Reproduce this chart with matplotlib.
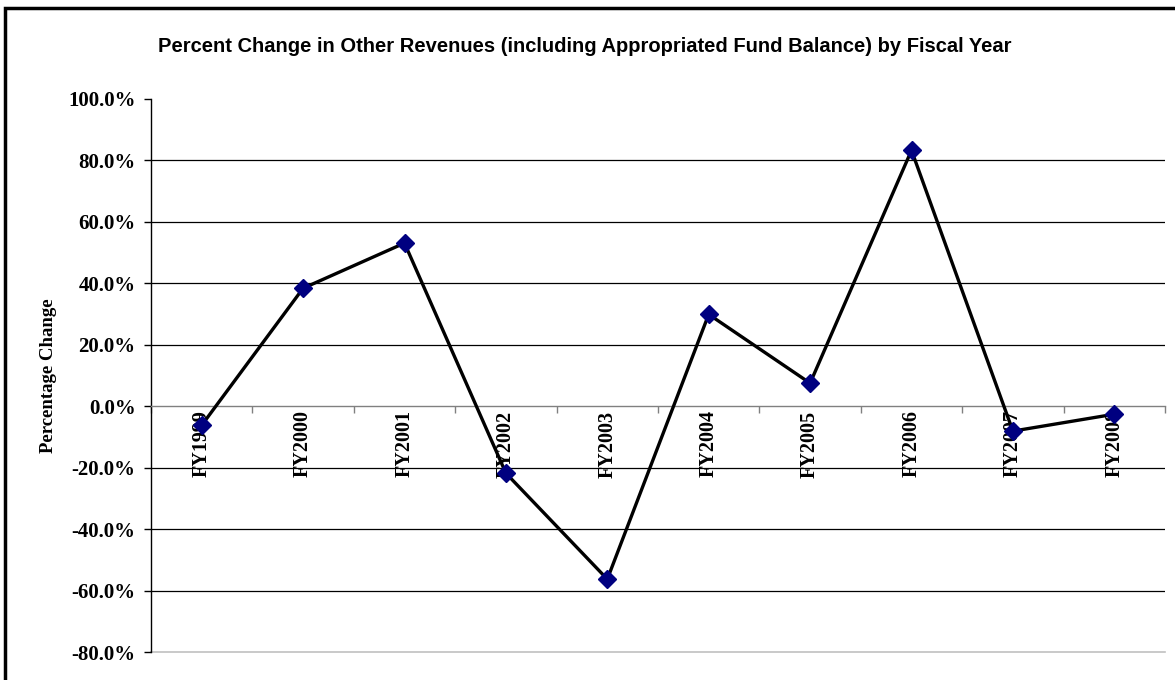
import matplotlib.pyplot as plt
from matplotlib.patches import Rectangle
from matplotlib.ticker import FuncFormatter, FixedLocator

years = ['FY1999', 'FY2000', 'FY2001', 'FY2002', 'FY2003',
         'FY2004', 'FY2005', 'FY2006', 'FY2007', 'FY2008']
pct_change = [-6.2, 38.4, 53.1, -21.8, -56.3, 29.9, 7.5, 83.3, -8.1, -2.6]
y_ticks = [-80, -60, -40, -20, 0, 20, 40, 60, 80, 100]

serif = 'Liberation Serif'
sans = 'Liberation Sans'

fig = plt.figure(figsize=(11.75, 6.8), dpi=100)
ax = fig.add_axes([151 / 1175, 1 - 652 / 680, (1165 - 151) / 1175, (652 - 99) / 680])

# frame round the whole chart (only top and left visible in the original)
fig.patches.append(Rectangle((5 / 1175, -0.1), 1.2, 1 - 8 / 680 + 0.1,
                             transform=fig.transFigure, fill=False,
                             edgecolor='black', linewidth=2.5))

x = list(range(len(years)))
ax.set_xlim(-0.5, len(years) - 0.5)
ax.set_ylim(-80, 100)

for v in y_ticks[1:-1]:
    if v != 0:
        ax.axhline(v, color='black', linewidth=0.9, zorder=1)
ax.axhline(-80, color='#c0c0c0', linewidth=1.2, zorder=1, clip_on=False)

ax.plot(x, pct_change, color='black', linewidth=2.4, zorder=3)
ax.plot(x, pct_change, linestyle='none', marker='D', markersize=9,
        markerfacecolor='#000080', markeredgecolor='#000080', zorder=4)

for s in ['top', 'right']:
    ax.spines[s].set_visible(False)
ax.spines['bottom'].set_position(('data', 0))
ax.spines['bottom'].set_color('#808080')
ax.spines['bottom'].set_linewidth(1.0)
ax.spines['left'].set_linewidth(1.0)

ax.set_yticks(y_ticks)
ax.yaxis.set_major_formatter(FuncFormatter(lambda v, p: '%.1f%%' % v))
ax.tick_params(axis='y', direction='out', length=5, width=1, pad=6)
for lab in ax.get_yticklabels():
    lab.set_fontfamily(serif)
    lab.set_fontweight('bold')
    lab.set_fontsize(15)

ax.set_xticks(x)
ax.set_xticklabels(years, rotation=90, fontfamily=serif, fontweight='bold',
                   fontsize=14.5, va='top')
ax.tick_params(axis='x', which='major', length=0, pad=3)
ax.xaxis.set_minor_locator(FixedLocator([i + 0.5 for i in range(-1, len(years))]))
ax.tick_params(axis='x', which='minor', direction='out', length=5, width=1,
               color='#808080')

ax.set_ylabel('Percentage Change', fontfamily=serif, fontweight='bold',
              fontsize=13.5, labelpad=8)

fig.text(0.5 * (148 + 1022) / 1175, 1 - 47 / 680,
         'Percent Change in Other Revenues (including Appropriated Fund Balance) by Fiscal Year',
         ha='center', va='center', fontfamily=sans, fontweight='bold', fontsize=14.5)

fig.savefig('out.png', dpi=100)
